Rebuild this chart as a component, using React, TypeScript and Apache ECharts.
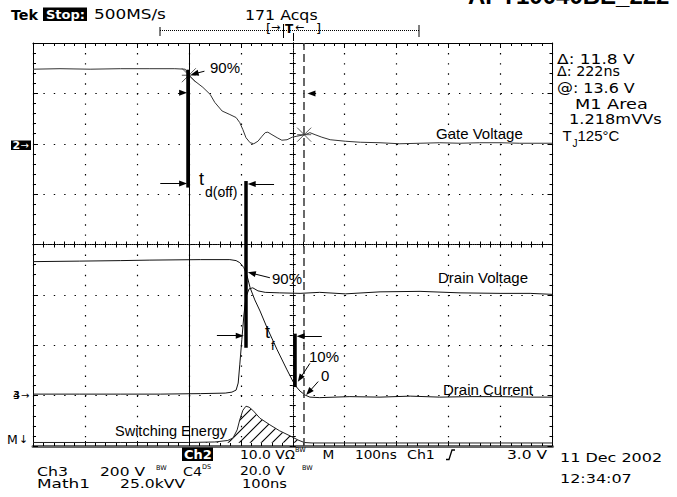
import React, { useEffect, useRef } from "react";
import * as echarts from "echarts";

// ---------- axes: time in ns (100 ns/div), vertical in screen divisions ----------
const TIME_MIN = -500;
const TIME_MAX = 500;
const TIME_STEP = 100;
const DIV_MIN = -4;
const DIV_MAX = 4;
const DIV_STEP = 1;

// ---------- Ch2 : gate voltage (divisions) ----------
const gateT = [-500, -448, -390, -332, -275, -227, -207, -198, -188, -173, -159, -150, -136, -121, -109, -102, -96, -90, -82, -75, -67, -59, -53, -48, -40, -30, -21, -11, -1, 8, 18, 24, 33, 43, 56, 72, 101, 130, 168, 206, 245, 283, 322, 360, 399, 437, 500];
const gateDiv = [3.48, 3.49, 3.48, 3.49, 3.49, 3.49, 3.48, 3.34, 3.24, 3.12, 2.98, 2.82, 2.65, 2.58, 2.52, 2.42, 2.28, 2.12, 2.02, 2.0, 2.05, 2.15, 2.22, 2.23, 2.18, 2.12, 2.07, 2.08, 2.13, 2.15, 2.17, 2.18, 2.22, 2.18, 2.13, 2.08, 2.05, 2.03, 2.02, 2.0, 2.01, 2.02, 2.01, 2.02, 2.02, 2.01, 2.01];

// ---------- Ch3 : drain voltage (divisions) ----------
const drainVT = [-500, -410, -332, -255, -178, -130, -117, -109, -105, -102, -98, -94, -90, -84, -77, -67, -53, -25, 14, 52, 101, 168, 245, 322, 399, 457, 500];
const drainVDiv = [-2.97, -2.97, -2.97, -2.97, -2.96, -2.95, -2.93, -2.89, -2.75, -2.39, -1.89, -1.4, -1.04, -0.88, -0.86, -0.92, -0.95, -0.96, -0.97, -0.95, -0.98, -0.94, -0.93, -0.96, -0.97, -0.97, -0.99];

// ---------- Ch4 : drain current (divisions) ----------
const drainIT = [-500, -410, -332, -275, -178, -121, -109, -102, -94, -88, -82, -73, -63, -50, -30, -11, 4, 14, 24, 33, 52, 110, 168, 226, 283, 341, 399, 457, 500];
const drainIDiv = [-0.34, -0.33, -0.32, -0.31, -0.3, -0.3, -0.32, -0.36, -0.46, -0.62, -0.86, -1.1, -1.32, -1.64, -2.09, -2.49, -2.79, -2.91, -2.99, -3.03, -3.04, -3.02, -3.03, -3.01, -3.03, -3.02, -3.02, -3.03, -3.03];

// ---------- Math1 : switching energy (divisions) ----------
const mathT = [-500, -332, -200, -150, -125, -115, -107, -102, -96, -90, -84, -77, -63, -44, -25, -5, 10, 22, 37, 206, 500];
const mathDiv = [-3.93, -3.93, -3.93, -3.92, -3.89, -3.84, -3.68, -3.48, -3.29, -3.21, -3.23, -3.29, -3.45, -3.58, -3.7, -3.8, -3.88, -3.93, -3.94, -3.94, -3.94];
const MATH_BASE = -3.935;

// ---------- cursors ----------
const cursorT = [-200, 22];
const cursorLevelDiv = [3.36, 2.18];

// ---------- measurement bars ----------
const barT = [-202, -91, 4];
const barTopDiv = [3.47, 1.26, -1.77];
const barBottomDiv = [1.13, -2.05, -2.83];

// ---------- measurement arrows (tail -> head) ----------
const arrowTailT = [-255, -36, -146, 56, -221, 45, -170, -44, 33, 49];
const arrowTailDiv = [1.21, 1.2, -1.81, -1.82, 3.01, 3.0, 3.44, -0.66, -2.36, -2.72];
const arrowHeadT = [-211, -79, -102, 15, -211, 36, -189, -79, 14, 31];
const arrowHeadDiv = [1.21, 1.2, -1.81, -1.82, 3.01, 3.0, 3.39, -0.57, -2.66, -2.93];

const zip = (a: number[], b: number[]) => a.map((v, i) => [v, b[i]]);

const SCOPE = '"DejaVu Sans"';
const HELV = '"Liberation Sans"';

function txt(
  text: string,
  x: number,
  y: number,
  size: number,
  family: string,
  opt: { sx?: number; fill?: string; weight?: string } = {}
) {
  return {
    type: "text",
    x,
    y,
    scaleX: opt.sx ?? 1,
    silent: true,
    z: 100,
    style: {
      text,
      font: `${opt.weight ?? "normal"} ${size}px ${family}`,
      fill: opt.fill ?? "#000",
      textAlign: "left",
      align: "left",
      textVerticalAlign: "middle",
      verticalAlign: "middle",
    },
  };
}
function rect(x: number, y: number, w: number, h: number) {
  return { type: "rect", silent: true, z: 99, shape: { x, y, width: w, height: h }, style: { fill: "#000" } };
}
function seg(x1: number, y1: number, x2: number, y2: number, dash?: number[]) {
  return {
    type: "line",
    silent: true,
    z: 99,
    shape: { x1, y1, x2, y2 },
    style: { stroke: "#000", lineWidth: 1, lineDash: dash ?? null },
  };
}

function makeHatch() {
  const c = document.createElement("canvas");
  c.width = 11;
  c.height = 11;
  const g = c.getContext("2d")!;
  g.strokeStyle = "#000";
  g.lineWidth = 1.1;
  g.beginPath();
  g.moveTo(0, 11);
  g.lineTo(11, 0);
  g.moveTo(-2, 2);
  g.lineTo(2, -2);
  g.moveTo(9, 13);
  g.lineTo(13, 9);
  g.stroke();
  return c;
}

export default function App() {
  const ref = useRef<HTMLDivElement>(null);

  useEffect(() => {
    const chart = echarts.init(ref.current!, null, { renderer: "svg" });
    const gridRect = { left: 33, top: 43, width: 519.5, height: 403 };
    const dotY = 403 / 40;
    const dotX = 519.5 / 50;

    const borderX = (pos: string, split: boolean, gridIndex: number, lineColor: string, lineWidth: number) => ({
      type: "value",
      gridIndex,
      position: pos,
      min: TIME_MIN,
      max: TIME_MAX,
      interval: TIME_STEP,
      axisLabel: { show: false },
      axisLine: { show: true, onZero: false, lineStyle: { color: lineColor, width: lineWidth } },
      axisTick: { show: true, inside: true, length: 5, lineStyle: { color: "#000", width: 1 } },
      minorTick: { show: true, splitNumber: 5, length: 3, lineStyle: { color: "#000", width: 1 } },
      splitLine: { show: split, lineStyle: { color: "#000", width: 1.2, type: [1.4, dotY - 1.4] } },
    });
    const borderY = (pos: string, split: boolean, gridIndex: number) => ({
      type: "value",
      gridIndex,
      position: pos,
      min: DIV_MIN,
      max: DIV_MAX,
      interval: DIV_STEP,
      axisLabel: { show: false },
      axisLine: { show: true, onZero: false, lineStyle: { color: "#000", width: 1 } },
      axisTick: { show: true, inside: true, length: 5, lineStyle: { color: "#000", width: 1 } },
      minorTick: { show: true, splitNumber: 5, length: 3, lineStyle: { color: "#000", width: 1 } },
      splitLine: { show: split, lineStyle: { color: "#000", width: 1.2, type: [1.4, dotX - 1.4] } },
    });
    const centerX = (pos: string) => ({
      type: "value",
      gridIndex: 1,
      position: pos,
      min: TIME_MIN,
      max: TIME_MAX,
      interval: TIME_STEP,
      axisLabel: { show: false },
      axisLine: { show: true, onZero: true, lineStyle: { color: "#000", width: 1, type: [1, 1.2] } },
      axisTick: { show: true, inside: true, length: 3, lineStyle: { color: "#000", width: 1 } },
      minorTick: { show: true, splitNumber: 5, length: 3, lineStyle: { color: "#000", width: 1 } },
      splitLine: { show: false },
    });
    const centerY = (pos: string) => ({
      type: "value",
      gridIndex: 1,
      position: pos,
      min: DIV_MIN,
      max: DIV_MAX,
      interval: DIV_STEP,
      axisLabel: { show: false },
      axisLine: { show: true, onZero: true, lineStyle: { color: "#000", width: 1, type: [1, 1.2] } },
      axisTick: { show: true, inside: true, length: 3, lineStyle: { color: "#000", width: 1 } },
      minorTick: { show: true, splitNumber: 5, length: 3, lineStyle: { color: "#000", width: 1 } },
      splitLine: { show: false },
    });

    const markData: any[] = [
      { xAxis: cursorT[0], lineStyle: { color: "#000", width: 1, type: "solid" } },
      { xAxis: cursorT[1], lineStyle: { color: "#444", width: 1.6, type: [8, 4] } },
    ];
    barT.forEach((t, i) => {
      markData.push([
        { coord: [t, barTopDiv[i]], symbol: "none", lineStyle: { color: "#000", width: 3.5, type: "solid" } },
        { coord: [t, barBottomDiv[i]], symbol: "none" },
      ]);
    });
    arrowTailT.forEach((t, i) => {
      markData.push([
        { coord: [t, arrowTailDiv[i]], symbol: "none", lineStyle: { color: "#000", width: 1, type: "solid" } },
        { coord: [arrowHeadT[i], arrowHeadDiv[i]], symbol: "triangle", symbolSize: [6, 8] },
      ]);
    });

    const hatchData = zip(mathT, mathDiv).filter((p) => p[0] >= cursorT[0] && p[0] <= cursorT[1]);

    const graphics: any[] = [
      // header
      txt("Tek", 11, 15, 13.5, SCOPE, { weight: "bold", sx: 1.06 }),
      rect(43, 7.5, 44, 13.5),
      txt("Stop:", 46, 14.5, 13, SCOPE, { weight: "bold", fill: "#fff" }),
      txt("500MS/s", 94, 15, 13.5, SCOPE, { sx: 1.25 }),
      txt("171 Acqs", 245, 15, 13.5, SCOPE, { sx: 1.17 }),
      txt("APT10040BE_222", 468, -4.5, 24, HELV, { weight: "bold" }),
      seg(160, 30.5, 419, 30.5, [1, 1]),
      seg(160, 27, 160, 36),
      seg(419, 25, 419, 37),
      txt("[", 266, 28, 13, SCOPE),
      txt("]", 316, 28, 13, SCOPE),
      txt("→", 271, 27, 11, SCOPE),
      seg(283.5, 24, 283.5, 38),
      txt("T", 285, 29, 12, SCOPE, { weight: "bold" }),
      seg(293.5, 33, 293.5, 41),
      txt("←", 295, 27, 11, SCOPE),
      // right readouts
      txt("Δ: 11.8 V", 557, 60, 13.5, SCOPE, { sx: 1.26 }),
      txt("Δ: 222ns", 557, 71.5, 13.5, SCOPE, { sx: 1.06 }),
      txt("@: 13.6 V", 557, 88, 13.5, SCOPE, { sx: 1.18 }),
      txt("M1 Area", 575, 104, 13.5, SCOPE, { sx: 1.31 }),
      txt("1.218mVVs", 569, 119, 13.5, SCOPE, { sx: 1.2 }),
      txt("T", 562.5, 135, 15, HELV),
      txt("J", 572.5, 143.5, 10, HELV),
      txt("125°C", 577.5, 135, 15, HELV),
      // channel ground markers
      rect(11, 140.5, 20, 9.5),
      txt("2", 12.5, 145.5, 11, SCOPE, { weight: "bold", fill: "#fff" }),
      txt("→", 20.5, 145, 10, SCOPE, { fill: "#fff" }),
      txt("3", 13, 395.5, 11, SCOPE),
      txt("4", 13, 395.5, 11, SCOPE),
      txt("→", 21, 395, 10, SCOPE),
      txt("M", 7, 439, 12.5, SCOPE),
      txt("↓", 19, 439, 11, SCOPE),
      // in-plot labels
      txt("Gate Voltage", 436, 133.5, 15, HELV),
      txt("Drain Voltage", 438, 277.5, 15, HELV),
      txt("Drain Current", 443, 389.5, 15, HELV),
      txt("Switching Energy", 115, 430.5, 14.5, HELV),
      txt("90%", 210, 67, 15, HELV),
      txt("90%", 272, 278.5, 15, HELV),
      txt("10%", 309, 356, 15, HELV),
      txt("0", 321, 375, 15, HELV),
      txt("t", 199, 179, 18, HELV),
      txt("d(off)", 205, 192, 14, HELV),
      txt("t", 265, 332, 18, HELV),
      txt("f", 271, 345, 13, HELV),
      // bottom readouts
      rect(182, 447.5, 31, 13.5),
      txt("Ch2", 184, 454.5, 13, SCOPE, { weight: "bold", fill: "#fff" }),
      txt("10.0 V", 240, 454.5, 13, SCOPE, { sx: 1.07 }),
      txt("Ω", 285, 454.5, 13, SCOPE),
      txt("BW", 295, 450, 6.5, SCOPE),
      txt("M", 322.5, 454.5, 13, SCOPE, { sx: 1.05 }),
      txt("100ns", 355, 454.5, 13, SCOPE, { sx: 1.05 }),
      txt("Ch1", 407, 454.5, 13, SCOPE, { sx: 1.09 }),
      {
        type: "polyline",
        silent: true,
        z: 99,
        shape: { points: [[446, 459.5], [449, 459.5], [452, 450], [455, 450]] },
        style: { stroke: "#000", lineWidth: 1.3, fill: null },
      },
      txt("3.0 V", 507, 454.5, 13, SCOPE, { sx: 1.19 }),
      txt("11 Dec 2002", 560, 457, 13, SCOPE, { sx: 1.23 }),
      txt("Ch3", 37, 471, 13, SCOPE, { sx: 1.21 }),
      txt("200 V", 100, 471, 13, SCOPE, { sx: 1.19 }),
      txt("BW", 156, 467.5, 6.5, SCOPE),
      txt("C4", 183, 471, 13, SCOPE, { sx: 1.1 }),
      txt("DS", 202, 467, 6.5, SCOPE),
      txt("20.0 V", 240, 471, 13, SCOPE, { sx: 1.07 }),
      txt("BW", 302, 467.5, 6.5, SCOPE),
      txt("Math1", 37, 483.7, 13, SCOPE, { sx: 1.3 }),
      txt("25.0kVV", 120, 483.7, 13, SCOPE, { sx: 1.2 }),
      txt("100ns", 242, 483.7, 13, SCOPE, { sx: 1.13 }),
      txt("12:34:07", 560, 478, 13, SCOPE, { sx: 1.23 }),
    ];

    const option: any = {
      animation: false,
      backgroundColor: "#fff",
      grid: [
        { ...gridRect, containLabel: false },
        { ...gridRect, containLabel: false },
      ],
      xAxis: [
        borderX("bottom", true, 0, "#666", 3),
        borderX("top", false, 0, "#000", 1),
        centerX("bottom"),
        centerX("top"),
      ],
      yAxis: [borderY("left", true, 0), borderY("right", false, 0), centerY("left"), centerY("right")],
      series: [
        {
          type: "line",
          name: "Math1 hatch",
          xAxisIndex: 0,
          yAxisIndex: 0,
          data: hatchData,
          showSymbol: false,
          silent: true,
          lineStyle: { width: 0 },
          areaStyle: { origin: MATH_BASE, opacity: 1, color: { image: makeHatch(), repeat: "repeat" } },
          z: 2,
        },
        {
          type: "line",
          name: "Switching Energy",
          xAxisIndex: 0,
          yAxisIndex: 0,
          data: zip(mathT, mathDiv),
          showSymbol: false,
          silent: true,
          lineStyle: { color: "#222", width: 1 },
          z: 3,
        },
        {
          type: "line",
          name: "Drain Voltage",
          xAxisIndex: 0,
          yAxisIndex: 0,
          data: zip(drainVT, drainVDiv),
          showSymbol: false,
          silent: true,
          lineStyle: { color: "#111", width: 1 },
          z: 3,
        },
        {
          type: "line",
          name: "Drain Current",
          xAxisIndex: 0,
          yAxisIndex: 0,
          data: zip(drainIT, drainIDiv),
          showSymbol: false,
          silent: true,
          lineStyle: { color: "#111", width: 1 },
          z: 3,
        },
        {
          type: "line",
          name: "Gate Voltage",
          xAxisIndex: 0,
          yAxisIndex: 0,
          data: zip(gateT, gateDiv),
          showSymbol: false,
          silent: true,
          lineStyle: { color: "#333", width: 1 },
          z: 3,
          markLine: {
            silent: true,
            symbol: "none",
            label: { show: false },
            animation: false,
            data: markData,
          },
        },
        {
          type: "scatter",
          name: "cursor",
          xAxisIndex: 0,
          yAxisIndex: 0,
          data: zip(cursorT, cursorLevelDiv),
          symbol: "path://M0 0L14 14M14 0L0 14M0 7L14 7",
          symbolSize: 14,
          silent: true,
          itemStyle: { color: "rgba(0,0,0,0)", borderColor: "#333", borderWidth: 1 },
          z: 4,
        },
      ],
      graphic: graphics,
    };

    chart.setOption(option);
    return () => chart.dispose();
  }, []);

  return (
    <div
      ref={ref}
      style={{ position: "fixed", left: 0, top: 0, width: 677, height: 497, background: "#fff" }}
    />
  );
}
